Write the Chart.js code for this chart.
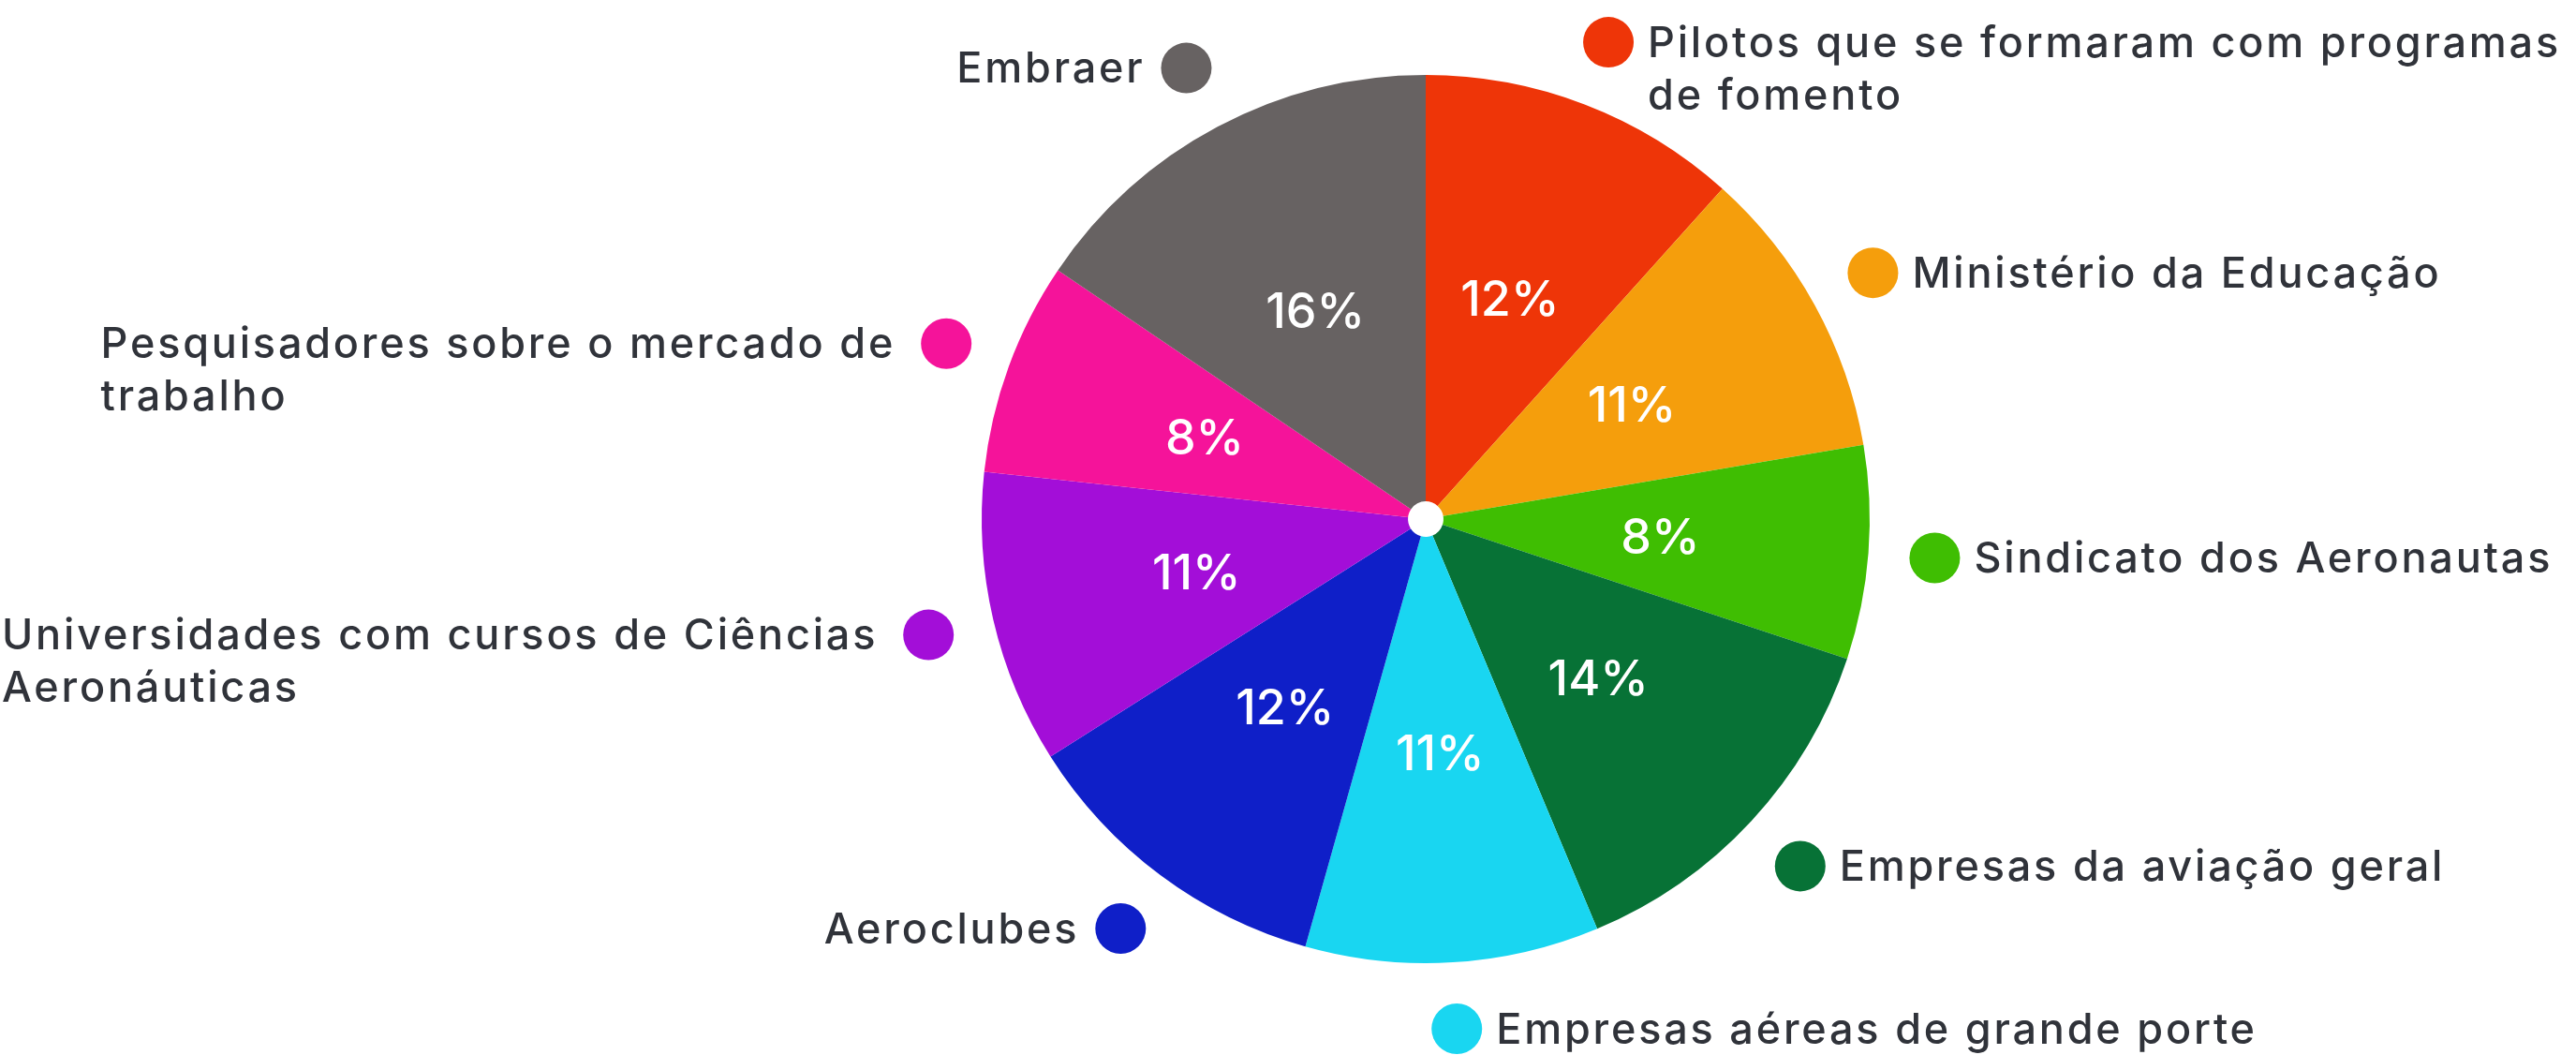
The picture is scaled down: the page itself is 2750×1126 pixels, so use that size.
<!DOCTYPE html>
<html>
<head>
<meta charset="utf-8">
<script src="https://cdn.jsdelivr.net/npm/chart.js@4"></script>
<style>
  html, body { margin: 0; padding: 0; background: #ffffff; }
  #wrap { width: 2750px; height: 1126px; position: relative; }
</style>
</head>
<body>
<div id="wrap"><canvas id="c"></canvas></div>
<script>
// ---- data ----
const categories = [
  ['Pilotos que se formaram com programas', 'de fomento'],
  ['Ministério da Educação'],
  ['Sindicato dos Aeronautas'],
  ['Empresas da aviação geral'],
  ['Empresas aéreas de grande porte'],
  ['Aeroclubes'],
  ['Universidades com cursos de Ciências', 'Aeronáuticas'],
  ['Pesquisadores sobre o mercado de', 'trabalho'],
  ['Embraer']
];
const shares = [12, 11, 8, 14, 11, 12, 11, 8, 16];
const sliceColors = [
  '#EE3508', '#F59E0C', '#3FBE02', '#077236', '#19D6F1',
  '#0F1FC8', '#A30ED8', '#F5139A', '#676262'
];

const TEXT_FONT = '500 45px Inter';
const TEXT_SPACING = '2.8px';
const PCT_FONT = '500 52px Inter';
const TEXT_COLOR = '#30333A';

const labelPlugin = {
  id: 'sliceLabels',
  afterDatasetsDraw(chart) {
    const ctx = chart.ctx;
    const meta = chart.getDatasetMeta(0);
    const data = chart.data.datasets[0].data;
    const labels = chart.data.labels;
    const colors = chart.data.datasets[0].backgroundColor;
    ctx.save();
    meta.data.forEach((arc, i) => {
      const p = arc.getProps(['x', 'y', 'startAngle', 'endAngle', 'outerRadius'], true);
      const mid = (p.startAngle + p.endAngle) / 2;
      const cos = Math.cos(mid), sin = Math.sin(mid);
      // percentage inside slice
      const rp = p.outerRadius * 0.53;
      ctx.letterSpacing = '0px';
      ctx.font = PCT_FONT;
      ctx.fillStyle = '#ffffff';
      ctx.textAlign = 'center';
      ctx.textBaseline = 'middle';
      ctx.fillText(data[i] + '%', p.x + cos * rp, p.y + sin * rp + 2);
      // dot outside
      const rd = p.outerRadius + 71;
      const dx = p.x + cos * rd, dy = p.y + sin * rd;
      ctx.beginPath();
      ctx.arc(dx, dy, 27, 0, Math.PI * 2);
      ctx.fillStyle = colors[i];
      ctx.fill();
      // text
      const lines = Array.isArray(labels[i]) ? labels[i] : [labels[i]];
      ctx.font = TEXT_FONT;
      ctx.letterSpacing = TEXT_SPACING;
      ctx.fillStyle = TEXT_COLOR;
      ctx.textAlign = 'left';
      ctx.textBaseline = 'middle';
      const lh = 56;
      const rightSide = cos >= -0.05;
      let x0;
      if (rightSide) {
        x0 = dx + 42;
      } else {
        const w = Math.max(...lines.map(l => ctx.measureText(l).width));
        x0 = dx - 44 - w - (lines.length > 1 ? 10 : 0);
      }
      lines.forEach((l, k) => ctx.fillText(l, x0, dy + 2 + k * lh));
    });
    ctx.restore();
  }
};

new Chart(document.getElementById('c'), {
  type: 'doughnut',
  data: {
    labels: categories,
    datasets: [{
      data: shares,
      backgroundColor: sliceColors,
      borderWidth: 0,
      hoverOffset: 0
    }]
  },
  options: {
    responsive: true,
    maintainAspectRatio: false,
    animation: false,
    cutout: '4%',
    layout: { padding: { top: 80, bottom: 98, left: 1048, right: 754 } },
    plugins: {
      legend: { display: false },
      tooltip: { enabled: false }
    }
  },
  plugins: [labelPlugin]
});
</script>
</body>
</html>
